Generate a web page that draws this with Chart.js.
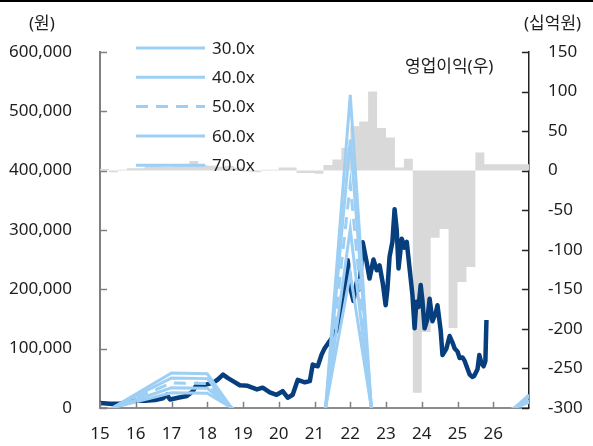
<!DOCTYPE html>
<html>
<head>
<meta charset="utf-8">
<script src="https://cdn.jsdelivr.net/npm/chart.js@4.4.1/dist/chart.umd.min.js"></script>
<style>
  html, body { margin: 0; padding: 0; background: #fff; }
  #wrap { width: 593px; height: 446px; }
</style>
</head>
<body>
<div id="wrap"><canvas id="chart" width="593" height="446"></canvas></div>
<script>
// share price (원)
var priceYears = [15.00, 15.28, 15.56, 15.78, 15.98, 16.26, 16.54, 16.76, 16.87, 16.96,
  17.18, 17.43, 17.60, 17.71, 17.88, 18.02, 18.16, 18.30, 18.44, 18.58,
  18.72, 18.91, 19.13, 19.39, 19.55, 19.75, 19.94, 20.11, 20.25, 20.39,
  20.53, 20.73, 20.87, 20.95, 21.09, 21.20, 21.28, 21.42, 21.56, 21.70,
  21.82, 21.93, 22.01, 22.09, 22.18, 22.26, 22.35, 22.46, 22.54, 22.65,
  22.74, 22.82, 22.91, 22.99, 23.04, 23.10, 23.18, 23.24, 23.30, 23.35,
  23.44, 23.52, 23.58, 23.66, 23.74, 23.80, 23.85, 23.91, 23.97, 24.02,
  24.08, 24.16, 24.22, 24.30, 24.39, 24.44, 24.53, 24.58, 24.69, 24.78,
  24.86, 24.92, 25.00, 25.06, 25.14, 25.20, 25.28, 25.34, 25.42, 25.47,
  25.56, 25.61, 25.67, 25.73, 25.78, 25.81];
var priceValues = [8000, 7000, 7000, 10000, 12000, 12000, 13000, 16000, 22000, 14000,
  17000, 20000, 28000, 40000, 38000, 40000, 42000, 48000, 56000, 50000,
  45000, 38000, 37000, 31000, 34000, 26000, 22000, 28000, 17000, 22000,
  47000, 43000, 45000, 73000, 70000, 90000, 100000, 112000, 125000, 140000,
  185000, 249000, 200000, 180000, 212000, 200000, 279000, 245000, 218000, 250000,
  232000, 240000, 210000, 173000, 200000, 255000, 280000, 335000, 300000, 235000,
  285000, 270000, 280000, 235000, 190000, 134000, 179000, 170000, 207000, 180000,
  134000, 150000, 184000, 146000, 160000, 173000, 130000, 89000, 100000, 121000,
  110000, 100000, 95000, 84000, 85000, 79000, 66000, 56000, 52000, 54000,
  65000, 89000, 75000, 70000, 79000, 148000];

// PER bands (원), yearly points
var bandYears = [15, 17, 18, 19, 20, 21, 22, 23, 24, 25, 26, 27];
var bandLabels = ['30.0x', '40.0x', '50.0x', '60.0x', '70.0x'];
var band30 = [-5400, 25200, 24600, -11700, -45000, -101700, 226200, -157200, -240000, -180000, -14000, 9300];
var band40 = [-7200, 33600, 32800, -15600, -60000, -135600, 301600, -209600, -320000, -240000, -18700, 12400];
var band50 = [-9000, 42000, 41000, -19500, -75000, -169500, 377000, -262000, -400000, -300000, -23400, 15600];
var band60 = [-10800, 50400, 49200, -23400, -90000, -203400, 452400, -314400, -480000, -360000, -28000, 18700];
var band70 = [-12600, 58800, 57400, -27300, -105000, -237300, 527800, -366800, -560000, -420000, -32700, 21800];

// quarterly operating profit (십억원)
var profitQuarters = [15, 15.25, 15.5, 15.75, 16, 16.25, 16.5, 16.75, 17, 17.25, 17.5, 17.75,
  18, 18.25, 18.5, 18.75, 19, 19.25, 19.5, 19.75, 20, 20.25, 20.5, 20.75,
  21, 21.25, 21.5, 21.75, 22, 22.25, 22.5, 22.75, 23, 23.25, 23.5, 23.75,
  24, 24.25, 24.5, 24.75, 25, 25.25, 25.5, 25.75, 26, 26.25, 26.5, 26.75, 27];
var profitValues = [2, -2, 1, 3, 3, 6, 6, 5, 6, 7, 12, 7,
  6, 5, 6, 4, -1, -2, 1, 1, 4, 4, -3, -3,
  -4, 7, 14, 29, 56, 62, 100, 54, 42, 4, 15, -281,
  -204, -85, -74, -199, -141, -122, 23, 8, 8, 8, 8, 8, 8];

var FONT = "'Noto Sans', 'Noto Sans CJK KR', sans-serif";
var TEXT = '#1e1e1e';
var BAND = '#9dcff5';
var NAVY = '#073f7e';

function xy(xs, ys) {
  return xs.map(function (x, i) { return { x: x, y: ys[i] }; });
}

var bands = [band30, band40, band50, band60, band70];
var datasets = bands.map(function (b, i) {
  return {
    label: bandLabels[i],
    data: xy(bandYears, b),
    yAxisID: 'y',
    borderColor: BAND,
    borderWidth: 3,
    borderDash: i === 2 ? [12, 8] : [],
    pointRadius: 0,
    tension: 0,
    order: 1
  };
});
datasets.push({
  label: 'price',
  data: xy(priceYears, priceValues),
  yAxisID: 'y',
  borderColor: NAVY,
  borderWidth: 4.5,
  borderJoinStyle: 'round',
  pointRadius: 0,
  order: 2
});
datasets.push({
  label: '영업이익(우)',
  data: xy(profitQuarters, profitValues),
  yAxisID: 'y2',
  stepped: 'before',
  fill: 'origin',
  backgroundColor: '#d9d9d9',
  borderColor: 'rgba(0,0,0,0)',
  borderWidth: 0,
  pointRadius: 0,
  order: 3
});

var decorations = {
  id: 'decorations',
  afterDraw: function (chart) {
    var ctx = chart.ctx, a = chart.chartArea;
    var sx = chart.scales.x, sy = chart.scales.y, sy2 = chart.scales.y2;
    ctx.save();
    // inward tick marks
    ctx.lineWidth = 1.5;
    ctx.strokeStyle = '#808080';
    sy.ticks.forEach(function (t) {
      var p = Math.round(sy.getPixelForValue(t.value)) + 0.5;
      ctx.beginPath(); ctx.moveTo(a.left, p); ctx.lineTo(a.left + 7, p); ctx.stroke();
    });
    sx.ticks.forEach(function (t) {
      if (t.value >= 27) return;
      var p = Math.round(sx.getPixelForValue(t.value)) + 0.5;
      ctx.beginPath(); ctx.moveTo(p, a.bottom); ctx.lineTo(p, a.bottom - 6); ctx.stroke();
    });
    ctx.strokeStyle = '#222';
    sy2.ticks.forEach(function (t) {
      var p = Math.round(sy2.getPixelForValue(t.value)) + 0.5;
      ctx.beginPath(); ctx.moveTo(a.right, p); ctx.lineTo(a.right - 7, p); ctx.stroke();
    });

    // legend
    ctx.font = '17px ' + FONT;
    ctx.textBaseline = 'middle';
    ctx.fillStyle = TEXT;
    bandLabels.forEach(function (lab, i) {
      var ly = 48 + i * 29.3;
      ctx.strokeStyle = BAND;
      ctx.lineWidth = 3;
      ctx.setLineDash(i === 2 ? [12, 8] : []);
      ctx.beginPath(); ctx.moveTo(136, ly); ctx.lineTo(205, ly); ctx.stroke();
      ctx.setLineDash([]);
      ctx.fillText(lab, 212, ly + 1);
    });

    // titles
    ctx.fillText('(원)', 29, 24);
    ctx.fillText('(십억원)', 524, 24);
    ctx.fillText('영업이익(우)', 405, 67);

    // top rule
    ctx.fillStyle = '#000';
    ctx.fillRect(0, 0, chart.width, 2);
    ctx.restore();
  }
};

new Chart(document.getElementById('chart'), {
  type: 'line',
  data: { datasets: datasets },
  options: {
    responsive: false,
    animation: false,
    devicePixelRatio: 1,
    layout: { padding: { top: 52, left: 0, right: 0, bottom: 0 } },
    plugins: { legend: { display: false }, tooltip: { enabled: false } },
    scales: {
      x: {
        type: 'linear',
        min: 15,
        max: 27,
        afterFit: function (s) { s.height = 36; },
        grid: { drawOnChartArea: false, drawTicks: false },
        border: { display: true, color: '#8c8c8c', width: 2 },
        ticks: {
          stepSize: 1,
          padding: 15.8,
          maxRotation: 0,
          autoSkip: false,
          color: TEXT,
          font: { family: FONT, size: 17 },
          callback: function (v) { return v < 27 ? String(v) : ''; }
        }
      },
      y: {
        position: 'left',
        min: 0,
        max: 600000,
        afterFit: function (s) { s.width = 100; },
        grid: { drawOnChartArea: false, drawTicks: false },
        border: { display: true, color: '#808080', width: 2 },
        ticks: { stepSize: 100000, padding: 28, color: TEXT, font: { family: FONT, size: 17 } }
      },
      y2: {
        position: 'right',
        min: -300,
        max: 150,
        afterFit: function (s) { s.width = 64; },
        grid: { drawOnChartArea: false, drawTicks: false },
        border: { display: true, color: '#222', width: 1.5 },
        ticks: { stepSize: 50, padding: 19, color: TEXT, font: { family: FONT, size: 17 } }
      }
    }
  },
  plugins: [decorations]
});
</script>
</body>
</html>
